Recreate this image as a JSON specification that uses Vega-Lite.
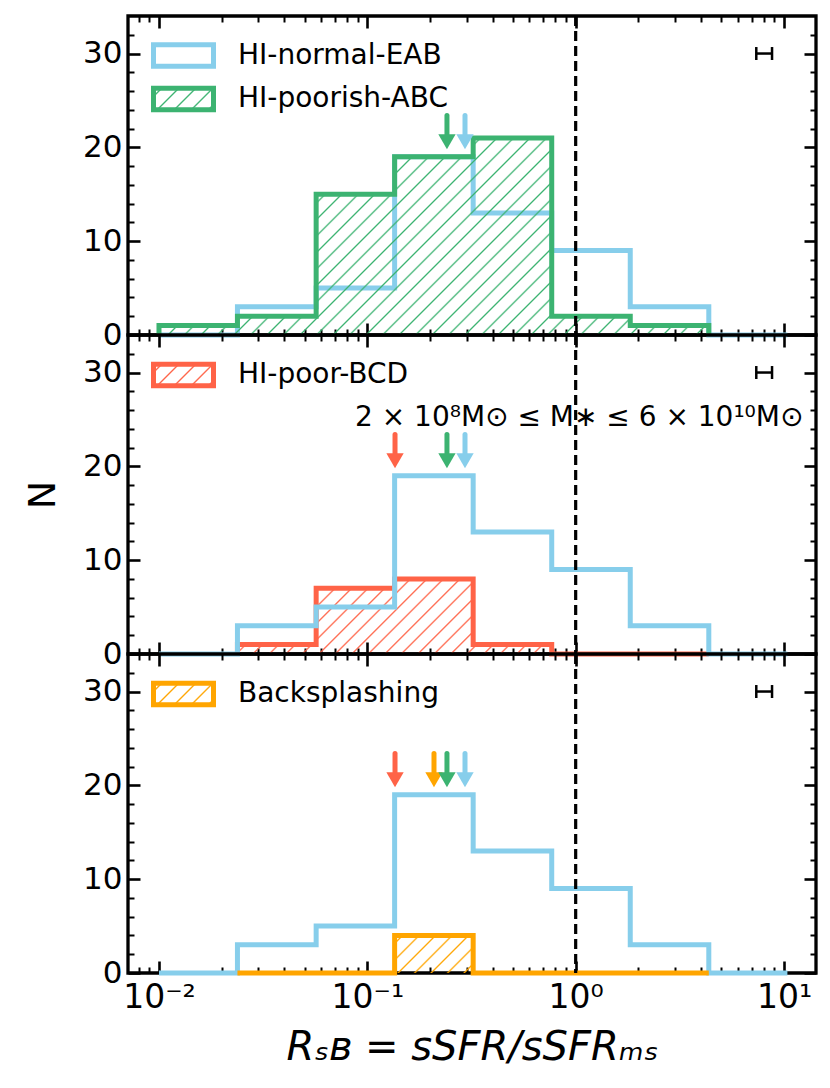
{
"$schema": "https://vega.github.io/schema/vega-lite/v6.json",
"padding": {"left": 22, "top": 12, "right": 5, "bottom": 5},
"background": "white",
"bounds": "flush",
"spacing": 0,
"config": {
  "font": "DejaVu Sans",
  "view": {"stroke": "black", "strokeWidth": 3.3},
  "axis": {"domain": false, "grid": false, "tickColor": "black", "labelColor": "black", "labelFont": "DejaVu Sans", "labelFontSize": 31, "labelFlush": false, "labelOverlap": false, "titleColor": "black", "titleFont": "DejaVu Sans", "titleFontWeight": "normal"},
  "legend": {"labelFont": "DejaVu Sans", "labelColor": "black", "labelLimit": 0}
},
"datasets": {
  "hist": [
    {"s":"HI-normal-EAB","i":0,"x":0.01,"n":0},
    {"s":"HI-normal-EAB","i":1,"x":0.0238,"n":3},
    {"s":"HI-normal-EAB","i":2,"x":0.0568,"n":5},
    {"s":"HI-normal-EAB","i":3,"x":0.1352,"n":19},
    {"s":"HI-normal-EAB","i":4,"x":0.3221,"n":13},
    {"s":"HI-normal-EAB","i":5,"x":0.7674,"n":9},
    {"s":"HI-normal-EAB","i":6,"x":1.828,"n":3},
    {"s":"HI-normal-EAB","i":7,"x":4.355,"n":0},
    {"s":"HI-normal-EAB","i":8,"x":10.38,"n":0},
    {"s":"HI-poorish-ABC","i":0,"x":0.01,"n":0},
    {"s":"HI-poorish-ABC","i":1,"x":0.01,"n":1},
    {"s":"HI-poorish-ABC","i":2,"x":0.0238,"n":2},
    {"s":"HI-poorish-ABC","i":3,"x":0.0568,"n":15},
    {"s":"HI-poorish-ABC","i":4,"x":0.1352,"n":19},
    {"s":"HI-poorish-ABC","i":5,"x":0.3221,"n":21},
    {"s":"HI-poorish-ABC","i":6,"x":0.7674,"n":2},
    {"s":"HI-poorish-ABC","i":7,"x":1.828,"n":1},
    {"s":"HI-poorish-ABC","i":8,"x":4.355,"n":0},
    {"s":"HI-poor-BCD","i":0,"x":0.0238,"n":0},
    {"s":"HI-poor-BCD","i":1,"x":0.0238,"n":1},
    {"s":"HI-poor-BCD","i":2,"x":0.0568,"n":7},
    {"s":"HI-poor-BCD","i":3,"x":0.1352,"n":8},
    {"s":"HI-poor-BCD","i":4,"x":0.3221,"n":1},
    {"s":"HI-poor-BCD","i":5,"x":0.7674,"n":0},
    {"s":"HI-poor-BCD","i":6,"x":1.828,"n":0},
    {"s":"HI-poor-BCD","i":7,"x":4.355,"n":0},
    {"s":"Backsplashing","i":0,"x":0.0238,"n":0},
    {"s":"Backsplashing","i":1,"x":0.0568,"n":0},
    {"s":"Backsplashing","i":2,"x":0.1352,"n":4},
    {"s":"Backsplashing","i":3,"x":0.3221,"n":0},
    {"s":"Backsplashing","i":4,"x":0.7674,"n":0},
    {"s":"Backsplashing","i":5,"x":1.828,"n":0},
    {"s":"Backsplashing","i":6,"x":4.355,"n":0}
  ],
  "arrows": [
    {"p":"top","s":"HI-poorish-ABC","x":0.2411},
    {"p":"top","s":"HI-normal-EAB","x":0.2943},
    {"p":"mid","s":"HI-poor-BCD","x":0.1358},
    {"p":"mid","s":"HI-poorish-ABC","x":0.2411},
    {"p":"mid","s":"HI-normal-EAB","x":0.2943},
    {"p":"bot","s":"HI-poor-BCD","x":0.1358},
    {"p":"bot","s":"Backsplashing","x":0.2089},
    {"p":"bot","s":"HI-poorish-ABC","x":0.2411},
    {"p":"bot","s":"HI-normal-EAB","x":0.2943}
  ],
  "err": [{"lo":7.36,"hi":8.76,"n":30}],
  "ms": [{"r":1}],
  "note": [{"t":"2 × 10⁸M⊙ ≤ M∗ ≤ 6 × 10¹⁰M⊙","x":1.04,"y":25.2}]
},
"resolve": {"scale": {"x":"independent","y":"independent","color":"independent","stroke":"independent","fill":"independent"}, "legend": {"color":"independent"}},
"vconcat": [
{
  "width": 688, "height": 319,
  "resolve": {"axis": {"x":"independent","y":"independent"}},
  "layer": [
    {"data":{"name":"hist"},"transform":[{"filter":"datum.s === 'HI-normal-EAB' || datum.s === 'HI-poorish-ABC'"}],
     "mark":{"type":"line","interpolate":"step-after","strokeWidth":5,"strokeJoin":"miter"},
     "encoding":{
       "x":{"field":"x","type":"quantitative","scale":{"type":"log","domain":[0.0071,14.24],"nice":false},"axis":{"orient":"bottom","values":[0.01,0.1,1,10],"tickSize":-12,"tickWidth":2.6,"labels":false,"title":null}},
       "y":{"field":"n","type":"quantitative","scale":{"domain":[0,34],"nice":false,"zero":false},"axis":{"orient":"left","values":[0,10,20,30],"tickSize":-12,"tickWidth":2.6,"labelPadding":18,"title":null}},
       "order":{"field":"i","type":"quantitative"},
       "color":{"field":"s","type":"nominal","scale":{"domain":["HI-normal-EAB","HI-poorish-ABC"],"range":["#87ceeb","#3cb371"]},
         "legend":{"title":null,"orient":"none","legendX":23,"legendY":24.5,"padding":0,"symbolType":"M-1,-0.362H1V0.362H-1Z","symbolSize":3600,"symbolStrokeWidth":5,"labelFontSize":28,"labelOffset":22,"clipHeight":30,"rowPadding":13.5,
           "encode":{"symbols":{"update":{"opacity":{"value":1},"fill":[{"test":"datum.value === 'HI-poorish-ABC'","value":{"gradient":"linear","x1":0,"y1":0,"x2":1.2042,"y2":0.4360,"stops":[
             {"offset":0,"color":"rgba(60,179,113,0)"},
             {"offset":0.0785,"color":"rgba(60,179,113,0)"},{"offset":0.1013,"color":"#3cb371"},{"offset":0.1241,"color":"rgba(60,179,113,0)"},
             {"offset":0.2873,"color":"rgba(60,179,113,0)"},{"offset":0.3101,"color":"#3cb371"},{"offset":0.3329,"color":"rgba(60,179,113,0)"},
             {"offset":0.4962,"color":"rgba(60,179,113,0)"},{"offset":0.5190,"color":"#3cb371"},{"offset":0.5418,"color":"rgba(60,179,113,0)"},
             {"offset":0.7050,"color":"rgba(60,179,113,0)"},{"offset":0.7278,"color":"#3cb371"},{"offset":0.7506,"color":"rgba(60,179,113,0)"},
             {"offset":0.9139,"color":"rgba(60,179,113,0)"},{"offset":0.9367,"color":"#3cb371"},{"offset":0.9595,"color":"rgba(60,179,113,0)"},
             {"offset":1,"color":"rgba(60,179,113,0)"}]}},{"value":"white"}]}}}}}
     }},
    {"data":{"name":"hist"},"transform":[{"filter":"datum.s === 'HI-poorish-ABC' && datum.i >= 1"}],
     "mark":{"type":"area","orient":"vertical","interpolate":"step-after","opacity":1,"fill":{"gradient":"linear","x1":0,"y1":0,"x2":1.2038,"y2":0.4313,"stops":[
       {"offset":0,"color":"rgba(60,179,113,0)"},
       {"offset":0.0083,"color":"rgba(60,179,113,0)"},{"offset":0.0107,"color":"#3cb371"},{"offset":0.0131,"color":"rgba(60,179,113,0)"},
       {"offset":0.0304,"color":"rgba(60,179,113,0)"},{"offset":0.0328,"color":"#3cb371"},{"offset":0.0352,"color":"rgba(60,179,113,0)"},
       {"offset":0.0525,"color":"rgba(60,179,113,0)"},{"offset":0.0549,"color":"#3cb371"},{"offset":0.0573,"color":"rgba(60,179,113,0)"},
       {"offset":0.0746,"color":"rgba(60,179,113,0)"},{"offset":0.0770,"color":"#3cb371"},{"offset":0.0794,"color":"rgba(60,179,113,0)"},
       {"offset":0.0967,"color":"rgba(60,179,113,0)"},{"offset":0.0991,"color":"#3cb371"},{"offset":0.1015,"color":"rgba(60,179,113,0)"},
       {"offset":0.1188,"color":"rgba(60,179,113,0)"},{"offset":0.1212,"color":"#3cb371"},{"offset":0.1236,"color":"rgba(60,179,113,0)"},
       {"offset":0.1409,"color":"rgba(60,179,113,0)"},{"offset":0.1433,"color":"#3cb371"},{"offset":0.1457,"color":"rgba(60,179,113,0)"},
       {"offset":0.1630,"color":"rgba(60,179,113,0)"},{"offset":0.1654,"color":"#3cb371"},{"offset":0.1678,"color":"rgba(60,179,113,0)"},
       {"offset":0.1851,"color":"rgba(60,179,113,0)"},{"offset":0.1875,"color":"#3cb371"},{"offset":0.1899,"color":"rgba(60,179,113,0)"},
       {"offset":0.2072,"color":"rgba(60,179,113,0)"},{"offset":0.2096,"color":"#3cb371"},{"offset":0.2120,"color":"rgba(60,179,113,0)"},
       {"offset":0.2293,"color":"rgba(60,179,113,0)"},{"offset":0.2317,"color":"#3cb371"},{"offset":0.2341,"color":"rgba(60,179,113,0)"},
       {"offset":0.2514,"color":"rgba(60,179,113,0)"},{"offset":0.2538,"color":"#3cb371"},{"offset":0.2562,"color":"rgba(60,179,113,0)"},
       {"offset":0.2734,"color":"rgba(60,179,113,0)"},{"offset":0.2758,"color":"#3cb371"},{"offset":0.2782,"color":"rgba(60,179,113,0)"},
       {"offset":0.2955,"color":"rgba(60,179,113,0)"},{"offset":0.2979,"color":"#3cb371"},{"offset":0.3003,"color":"rgba(60,179,113,0)"},
       {"offset":0.3176,"color":"rgba(60,179,113,0)"},{"offset":0.3200,"color":"#3cb371"},{"offset":0.3224,"color":"rgba(60,179,113,0)"},
       {"offset":0.3397,"color":"rgba(60,179,113,0)"},{"offset":0.3421,"color":"#3cb371"},{"offset":0.3445,"color":"rgba(60,179,113,0)"},
       {"offset":0.3618,"color":"rgba(60,179,113,0)"},{"offset":0.3642,"color":"#3cb371"},{"offset":0.3666,"color":"rgba(60,179,113,0)"},
       {"offset":0.3839,"color":"rgba(60,179,113,0)"},{"offset":0.3863,"color":"#3cb371"},{"offset":0.3887,"color":"rgba(60,179,113,0)"},
       {"offset":0.4060,"color":"rgba(60,179,113,0)"},{"offset":0.4084,"color":"#3cb371"},{"offset":0.4108,"color":"rgba(60,179,113,0)"},
       {"offset":0.4281,"color":"rgba(60,179,113,0)"},{"offset":0.4305,"color":"#3cb371"},{"offset":0.4329,"color":"rgba(60,179,113,0)"},
       {"offset":0.4502,"color":"rgba(60,179,113,0)"},{"offset":0.4526,"color":"#3cb371"},{"offset":0.4550,"color":"rgba(60,179,113,0)"},
       {"offset":0.4723,"color":"rgba(60,179,113,0)"},{"offset":0.4747,"color":"#3cb371"},{"offset":0.4771,"color":"rgba(60,179,113,0)"},
       {"offset":0.4944,"color":"rgba(60,179,113,0)"},{"offset":0.4968,"color":"#3cb371"},{"offset":0.4992,"color":"rgba(60,179,113,0)"},
       {"offset":0.5165,"color":"rgba(60,179,113,0)"},{"offset":0.5189,"color":"#3cb371"},{"offset":0.5213,"color":"rgba(60,179,113,0)"},
       {"offset":0.5386,"color":"rgba(60,179,113,0)"},{"offset":0.5410,"color":"#3cb371"},{"offset":0.5434,"color":"rgba(60,179,113,0)"},
       {"offset":0.5607,"color":"rgba(60,179,113,0)"},{"offset":0.5631,"color":"#3cb371"},{"offset":0.5655,"color":"rgba(60,179,113,0)"},
       {"offset":0.5828,"color":"rgba(60,179,113,0)"},{"offset":0.5852,"color":"#3cb371"},{"offset":0.5876,"color":"rgba(60,179,113,0)"},
       {"offset":0.6049,"color":"rgba(60,179,113,0)"},{"offset":0.6073,"color":"#3cb371"},{"offset":0.6097,"color":"rgba(60,179,113,0)"},
       {"offset":0.6270,"color":"rgba(60,179,113,0)"},{"offset":0.6294,"color":"#3cb371"},{"offset":0.6318,"color":"rgba(60,179,113,0)"},
       {"offset":0.6490,"color":"rgba(60,179,113,0)"},{"offset":0.6514,"color":"#3cb371"},{"offset":0.6538,"color":"rgba(60,179,113,0)"},
       {"offset":0.6711,"color":"rgba(60,179,113,0)"},{"offset":0.6735,"color":"#3cb371"},{"offset":0.6759,"color":"rgba(60,179,113,0)"},
       {"offset":0.6932,"color":"rgba(60,179,113,0)"},{"offset":0.6956,"color":"#3cb371"},{"offset":0.6980,"color":"rgba(60,179,113,0)"},
       {"offset":0.7153,"color":"rgba(60,179,113,0)"},{"offset":0.7177,"color":"#3cb371"},{"offset":0.7201,"color":"rgba(60,179,113,0)"},
       {"offset":0.7374,"color":"rgba(60,179,113,0)"},{"offset":0.7398,"color":"#3cb371"},{"offset":0.7422,"color":"rgba(60,179,113,0)"},
       {"offset":0.7595,"color":"rgba(60,179,113,0)"},{"offset":0.7619,"color":"#3cb371"},{"offset":0.7643,"color":"rgba(60,179,113,0)"},
       {"offset":0.7816,"color":"rgba(60,179,113,0)"},{"offset":0.7840,"color":"#3cb371"},{"offset":0.7864,"color":"rgba(60,179,113,0)"},
       {"offset":0.8037,"color":"rgba(60,179,113,0)"},{"offset":0.8061,"color":"#3cb371"},{"offset":0.8085,"color":"rgba(60,179,113,0)"},
       {"offset":0.8258,"color":"rgba(60,179,113,0)"},{"offset":0.8282,"color":"#3cb371"},{"offset":0.8306,"color":"rgba(60,179,113,0)"},
       {"offset":0.8479,"color":"rgba(60,179,113,0)"},{"offset":0.8503,"color":"#3cb371"},{"offset":0.8527,"color":"rgba(60,179,113,0)"},
       {"offset":0.8700,"color":"rgba(60,179,113,0)"},{"offset":0.8724,"color":"#3cb371"},{"offset":0.8748,"color":"rgba(60,179,113,0)"},
       {"offset":0.8921,"color":"rgba(60,179,113,0)"},{"offset":0.8945,"color":"#3cb371"},{"offset":0.8969,"color":"rgba(60,179,113,0)"},
       {"offset":0.9142,"color":"rgba(60,179,113,0)"},{"offset":0.9166,"color":"#3cb371"},{"offset":0.9190,"color":"rgba(60,179,113,0)"},
       {"offset":0.9363,"color":"rgba(60,179,113,0)"},{"offset":0.9387,"color":"#3cb371"},{"offset":0.9411,"color":"rgba(60,179,113,0)"},
       {"offset":0.9584,"color":"rgba(60,179,113,0)"},{"offset":0.9608,"color":"#3cb371"},{"offset":0.9632,"color":"rgba(60,179,113,0)"},
       {"offset":0.9805,"color":"rgba(60,179,113,0)"},{"offset":0.9829,"color":"#3cb371"},{"offset":0.9853,"color":"rgba(60,179,113,0)"},
       {"offset":1,"color":"rgba(60,179,113,0)"}]}},
     "encoding":{
       "x":{"field":"x","type":"quantitative","scale":{"type":"log","domain":[0.0071,14.24],"nice":false},"axis":{"orient":"bottom","values":[0.008,0.009,0.02,0.03,0.04,0.05,0.06,0.07,0.08,0.09,0.2,0.3,0.4,0.5,0.6,0.7,0.8,0.9,2,3,4,5,6,7,8,9],"tickSize":-6,"tickWidth":2,"labels":false,"title":null}},
       "y":{"field":"n","type":"quantitative","stack":null,"scale":{"domain":[0,34],"nice":false,"zero":false},"axis":{"orient":"left","values":[2,4,6,8,12,14,16,18,22,24,26,28,32],"tickSize":-6,"tickWidth":2,"labels":false,"title":null}}
     }},
    {"data":{"name":"ms"},"mark":{"type":"rule","strokeDash":[10,5],"strokeWidth":3.2,"color":"black"},
     "encoding":{"x":{"field":"r","type":"quantitative","scale":{"type":"log","domain":[0.0071,14.24],"nice":false},"axis":null}}},
    {"data":{"name":"arrows"},"transform":[{"filter":"datum.p === 'top'"}],
     "mark":{"type":"rule","strokeWidth":5,"strokeCap":"round"},
     "encoding":{
       "x":{"field":"x","type":"quantitative","scale":{"type":"log","domain":[0.0071,14.24],"nice":false},"axis":{"orient":"top","values":[0.01,0.1,1,10],"tickSize":-12,"tickWidth":2.6,"labels":false,"title":null}},
       "y":{"datum":23.4,"type":"quantitative","scale":{"domain":[0,34],"nice":false,"zero":false},"axis":{"orient":"right","values":[0,10,20,30],"tickSize":-12,"tickWidth":2.6,"labels":false,"title":null}},
       "y2":{"datum":21.2},
       "stroke":{"field":"s","type":"nominal","scale":{"domain":["HI-normal-EAB","HI-poorish-ABC","HI-poor-BCD","Backsplashing"],"range":["#87ceeb","#3cb371","#ff6347","#ffa500"]},"legend":null}
     }},
    {"data":{"name":"arrows"},"transform":[{"filter":"datum.p === 'top'"}],
     "mark":{"type":"point","shape":"triangle-down","size":300,"filled":true,"opacity":1,"strokeWidth":0},
     "encoding":{
       "x":{"field":"x","type":"quantitative","scale":{"type":"log","domain":[0.0071,14.24],"nice":false},"axis":{"orient":"top","values":[0.008,0.009,0.02,0.03,0.04,0.05,0.06,0.07,0.08,0.09,0.2,0.3,0.4,0.5,0.6,0.7,0.8,0.9,2,3,4,5,6,7,8,9],"tickSize":-6,"tickWidth":2,"labels":false,"title":null}},
       "y":{"datum":20.6,"type":"quantitative","scale":{"domain":[0,34],"nice":false,"zero":false},"axis":{"orient":"right","values":[2,4,6,8,12,14,16,18,22,24,26,28,32],"tickSize":-6,"tickWidth":2,"labels":false,"title":null}},
       "fill":{"field":"s","type":"nominal","scale":{"domain":["HI-normal-EAB","HI-poorish-ABC","HI-poor-BCD","Backsplashing"],"range":["#87ceeb","#3cb371","#ff6347","#ffa500"]},"legend":null}
     }},
    {"data":{"name":"err"},"mark":{"type":"rule","strokeWidth":2.5,"color":"black"},
     "encoding":{"x":{"field":"lo","type":"quantitative","scale":{"type":"log","domain":[0.0071,14.24],"nice":false},"axis":null},"x2":{"field":"hi"},"y":{"field":"n","type":"quantitative","scale":{"domain":[0,34],"nice":false,"zero":false},"axis":null}}},
    {"data":{"name":"err"},"transform":[{"fold":["lo","hi"],"as":["end","v"]}],"mark":{"type":"tick","orient":"vertical","size":13,"thickness":2.5,"color":"black","opacity":1},
     "encoding":{"x":{"field":"v","type":"quantitative","scale":{"type":"log","domain":[0.0071,14.24],"nice":false},"axis":null},"y":{"field":"n","type":"quantitative","scale":{"domain":[0,34],"nice":false,"zero":false},"axis":null}}}
  ]
},
{
  "width": 688, "height": 319,
  "resolve": {"axis": {"x":"independent","y":"independent"}},
  "layer": [
    {"data":{"name":"hist"},"transform":[{"filter":"datum.s === 'HI-poor-BCD' && datum.i >= 1 && datum.x <= 0.77"}],
     "mark":{"type":"area","orient":"vertical","interpolate":"step-after","opacity":1,"fill":{"gradient":"linear","x1":0,"y1":0,"x2":1.1720,"y2":0.2801,"stops":[
       {"offset":0,"color":"rgba(255,99,71,0)"},
       {"offset":0.0159,"color":"rgba(255,99,71,0)"},{"offset":0.0205,"color":"#ff6347"},{"offset":0.0251,"color":"rgba(255,99,71,0)"},
       {"offset":0.0583,"color":"rgba(255,99,71,0)"},{"offset":0.0629,"color":"#ff6347"},{"offset":0.0675,"color":"rgba(255,99,71,0)"},
       {"offset":0.1007,"color":"rgba(255,99,71,0)"},{"offset":0.1053,"color":"#ff6347"},{"offset":0.1099,"color":"rgba(255,99,71,0)"},
       {"offset":0.1430,"color":"rgba(255,99,71,0)"},{"offset":0.1476,"color":"#ff6347"},{"offset":0.1522,"color":"rgba(255,99,71,0)"},
       {"offset":0.1854,"color":"rgba(255,99,71,0)"},{"offset":0.1900,"color":"#ff6347"},{"offset":0.1946,"color":"rgba(255,99,71,0)"},
       {"offset":0.2278,"color":"rgba(255,99,71,0)"},{"offset":0.2324,"color":"#ff6347"},{"offset":0.2370,"color":"rgba(255,99,71,0)"},
       {"offset":0.2702,"color":"rgba(255,99,71,0)"},{"offset":0.2748,"color":"#ff6347"},{"offset":0.2794,"color":"rgba(255,99,71,0)"},
       {"offset":0.3125,"color":"rgba(255,99,71,0)"},{"offset":0.3171,"color":"#ff6347"},{"offset":0.3217,"color":"rgba(255,99,71,0)"},
       {"offset":0.3549,"color":"rgba(255,99,71,0)"},{"offset":0.3595,"color":"#ff6347"},{"offset":0.3641,"color":"rgba(255,99,71,0)"},
       {"offset":0.3973,"color":"rgba(255,99,71,0)"},{"offset":0.4019,"color":"#ff6347"},{"offset":0.4065,"color":"rgba(255,99,71,0)"},
       {"offset":0.4396,"color":"rgba(255,99,71,0)"},{"offset":0.4442,"color":"#ff6347"},{"offset":0.4488,"color":"rgba(255,99,71,0)"},
       {"offset":0.4820,"color":"rgba(255,99,71,0)"},{"offset":0.4866,"color":"#ff6347"},{"offset":0.4912,"color":"rgba(255,99,71,0)"},
       {"offset":0.5244,"color":"rgba(255,99,71,0)"},{"offset":0.5290,"color":"#ff6347"},{"offset":0.5336,"color":"rgba(255,99,71,0)"},
       {"offset":0.5667,"color":"rgba(255,99,71,0)"},{"offset":0.5713,"color":"#ff6347"},{"offset":0.5759,"color":"rgba(255,99,71,0)"},
       {"offset":0.6091,"color":"rgba(255,99,71,0)"},{"offset":0.6137,"color":"#ff6347"},{"offset":0.6183,"color":"rgba(255,99,71,0)"},
       {"offset":0.6515,"color":"rgba(255,99,71,0)"},{"offset":0.6561,"color":"#ff6347"},{"offset":0.6607,"color":"rgba(255,99,71,0)"},
       {"offset":0.6939,"color":"rgba(255,99,71,0)"},{"offset":0.6985,"color":"#ff6347"},{"offset":0.7031,"color":"rgba(255,99,71,0)"},
       {"offset":0.7362,"color":"rgba(255,99,71,0)"},{"offset":0.7408,"color":"#ff6347"},{"offset":0.7454,"color":"rgba(255,99,71,0)"},
       {"offset":0.7786,"color":"rgba(255,99,71,0)"},{"offset":0.7832,"color":"#ff6347"},{"offset":0.7878,"color":"rgba(255,99,71,0)"},
       {"offset":0.8210,"color":"rgba(255,99,71,0)"},{"offset":0.8256,"color":"#ff6347"},{"offset":0.8302,"color":"rgba(255,99,71,0)"},
       {"offset":0.8633,"color":"rgba(255,99,71,0)"},{"offset":0.8679,"color":"#ff6347"},{"offset":0.8725,"color":"rgba(255,99,71,0)"},
       {"offset":0.9057,"color":"rgba(255,99,71,0)"},{"offset":0.9103,"color":"#ff6347"},{"offset":0.9149,"color":"rgba(255,99,71,0)"},
       {"offset":0.9481,"color":"rgba(255,99,71,0)"},{"offset":0.9527,"color":"#ff6347"},{"offset":0.9573,"color":"rgba(255,99,71,0)"},
       {"offset":0.9904,"color":"rgba(255,99,71,0)"},{"offset":0.9950,"color":"#ff6347"},{"offset":0.9996,"color":"rgba(255,99,71,0)"},
       {"offset":1,"color":"rgba(255,99,71,0)"}]}},
     "encoding":{
       "x":{"field":"x","type":"quantitative","scale":{"type":"log","domain":[0.0071,14.24],"nice":false},"axis":{"orient":"bottom","values":[0.008,0.009,0.02,0.03,0.04,0.05,0.06,0.07,0.08,0.09,0.2,0.3,0.4,0.5,0.6,0.7,0.8,0.9,2,3,4,5,6,7,8,9],"tickSize":-6,"tickWidth":2,"labels":false,"title":null}},
       "y":{"field":"n","type":"quantitative","stack":null,"scale":{"domain":[0,34],"nice":false,"zero":false},"axis":{"orient":"left","values":[2,4,6,8,12,14,16,18,22,24,26,28,32],"tickSize":-6,"tickWidth":2,"labels":false,"title":null}}
     }},
    {"data":{"name":"hist"},"transform":[{"filter":"datum.s === 'HI-poor-BCD'"}],
     "mark":{"type":"line","interpolate":"step-after","strokeWidth":5,"strokeJoin":"miter"},
     "encoding":{
       "x":{"field":"x","type":"quantitative","scale":{"type":"log","domain":[0.0071,14.24],"nice":false},"axis":{"orient":"bottom","values":[0.01,0.1,1,10],"tickSize":-12,"tickWidth":2.6,"labels":false,"title":null}},
       "y":{"field":"n","type":"quantitative","scale":{"domain":[0,34],"nice":false,"zero":false},"axis":{"orient":"left","values":[0,10,20,30],"tickSize":-12,"tickWidth":2.6,"labelPadding":18,"title":"N","titleFontSize":38,"titlePadding":20}},
       "order":{"field":"i","type":"quantitative"},
       "color":{"field":"s","type":"nominal","scale":{"domain":["HI-poor-BCD"],"range":["#ff6347"]},
         "legend":{"title":null,"orient":"none","legendX":23,"legendY":25,"padding":0,"symbolType":"M-1,-0.362H1V0.362H-1Z","symbolSize":3600,"symbolStrokeWidth":5,"labelFontSize":28,"labelOffset":22,"clipHeight":30,"rowPadding":13.5,
           "encode":{"symbols":{"update":{"opacity":{"value":1},"fill":{"value":{"gradient":"linear","x1":0,"y1":0,"x2":1.2042,"y2":0.4360,"stops":[
             {"offset":0,"color":"rgba(255,99,71,0)"},
             {"offset":0.0785,"color":"rgba(255,99,71,0)"},{"offset":0.1013,"color":"#ff6347"},{"offset":0.1241,"color":"rgba(255,99,71,0)"},
             {"offset":0.2873,"color":"rgba(255,99,71,0)"},{"offset":0.3101,"color":"#ff6347"},{"offset":0.3329,"color":"rgba(255,99,71,0)"},
             {"offset":0.4962,"color":"rgba(255,99,71,0)"},{"offset":0.5190,"color":"#ff6347"},{"offset":0.5418,"color":"rgba(255,99,71,0)"},
             {"offset":0.7050,"color":"rgba(255,99,71,0)"},{"offset":0.7278,"color":"#ff6347"},{"offset":0.7506,"color":"rgba(255,99,71,0)"},
             {"offset":0.9139,"color":"rgba(255,99,71,0)"},{"offset":0.9367,"color":"#ff6347"},{"offset":0.9595,"color":"rgba(255,99,71,0)"},
             {"offset":1,"color":"rgba(255,99,71,0)"}]}}}}}}}
     }},
    {"data":{"name":"hist"},"transform":[{"filter":"datum.s === 'HI-normal-EAB'"}],
     "mark":{"type":"line","interpolate":"step-after","strokeWidth":5,"strokeJoin":"miter","color":"#87ceeb"},
     "encoding":{
       "x":{"field":"x","type":"quantitative","scale":{"type":"log","domain":[0.0071,14.24],"nice":false},"axis":null},
       "y":{"field":"n","type":"quantitative","scale":{"domain":[0,34],"nice":false,"zero":false},"axis":null},
       "order":{"field":"i","type":"quantitative"}
     }},
    {"data":{"name":"ms"},"mark":{"type":"rule","strokeDash":[10,5],"strokeWidth":3.2,"color":"black"},
     "encoding":{"x":{"field":"r","type":"quantitative","scale":{"type":"log","domain":[0.0071,14.24],"nice":false},"axis":null}}},
    {"data":{"name":"arrows"},"transform":[{"filter":"datum.p === 'mid'"}],
     "mark":{"type":"rule","strokeWidth":5,"strokeCap":"round"},
     "encoding":{
       "x":{"field":"x","type":"quantitative","scale":{"type":"log","domain":[0.0071,14.24],"nice":false},"axis":{"orient":"top","values":[0.01,0.1,1,10],"tickSize":-12,"tickWidth":2.6,"labels":false,"title":null}},
       "y":{"datum":23.4,"type":"quantitative","scale":{"domain":[0,34],"nice":false,"zero":false},"axis":{"orient":"right","values":[0,10,20,30],"tickSize":-12,"tickWidth":2.6,"labels":false,"title":null}},
       "y2":{"datum":21.2},
       "stroke":{"field":"s","type":"nominal","scale":{"domain":["HI-normal-EAB","HI-poorish-ABC","HI-poor-BCD","Backsplashing"],"range":["#87ceeb","#3cb371","#ff6347","#ffa500"]},"legend":null}
     }},
    {"data":{"name":"arrows"},"transform":[{"filter":"datum.p === 'mid'"}],
     "mark":{"type":"point","shape":"triangle-down","size":300,"filled":true,"opacity":1,"strokeWidth":0},
     "encoding":{
       "x":{"field":"x","type":"quantitative","scale":{"type":"log","domain":[0.0071,14.24],"nice":false},"axis":{"orient":"top","values":[0.008,0.009,0.02,0.03,0.04,0.05,0.06,0.07,0.08,0.09,0.2,0.3,0.4,0.5,0.6,0.7,0.8,0.9,2,3,4,5,6,7,8,9],"tickSize":-6,"tickWidth":2,"labels":false,"title":null}},
       "y":{"datum":20.6,"type":"quantitative","scale":{"domain":[0,34],"nice":false,"zero":false},"axis":{"orient":"right","values":[2,4,6,8,12,14,16,18,22,24,26,28,32],"tickSize":-6,"tickWidth":2,"labels":false,"title":null}},
       "fill":{"field":"s","type":"nominal","scale":{"domain":["HI-normal-EAB","HI-poorish-ABC","HI-poor-BCD","Backsplashing"],"range":["#87ceeb","#3cb371","#ff6347","#ffa500"]},"legend":null}
     }},
    {"data":{"name":"err"},"mark":{"type":"rule","strokeWidth":2.5,"color":"black"},
     "encoding":{"x":{"field":"lo","type":"quantitative","scale":{"type":"log","domain":[0.0071,14.24],"nice":false},"axis":null},"x2":{"field":"hi"},"y":{"field":"n","type":"quantitative","scale":{"domain":[0,34],"nice":false,"zero":false},"axis":null}}},
    {"data":{"name":"err"},"transform":[{"fold":["lo","hi"],"as":["end","v"]}],"mark":{"type":"tick","orient":"vertical","size":13,"thickness":2.5,"color":"black","opacity":1},
     "encoding":{"x":{"field":"v","type":"quantitative","scale":{"type":"log","domain":[0.0071,14.24],"nice":false},"axis":null},"y":{"field":"n","type":"quantitative","scale":{"domain":[0,34],"nice":false,"zero":false},"axis":null}}},
    {"data":{"name":"note"},"mark":{"type":"text","fontSize":28,"font":"DejaVu Sans","color":"black","align":"center","baseline":"middle"},
     "encoding":{"x":{"field":"x","type":"quantitative","scale":{"type":"log","domain":[0.0071,14.24],"nice":false},"axis":null},"y":{"field":"y","type":"quantitative","scale":{"domain":[0,34],"nice":false,"zero":false},"axis":null},"text":{"field":"t"}}}
  ]
},
{
  "width": 688, "height": 319,
  "resolve": {"axis": {"x":"independent","y":"independent"}},
  "layer": [
    {"data":{"name":"hist"},"transform":[{"filter":"datum.s === 'HI-normal-EAB'"}],
     "mark":{"type":"line","interpolate":"step-after","strokeWidth":5,"strokeJoin":"miter","color":"#87ceeb"},
     "encoding":{
       "x":{"field":"x","type":"quantitative","scale":{"type":"log","domain":[0.0071,14.24],"nice":false},"axis":null},
       "y":{"field":"n","type":"quantitative","scale":{"domain":[0,34],"nice":false,"zero":false},"axis":null},
       "order":{"field":"i","type":"quantitative"}
     }},
    {"data":{"name":"hist"},"transform":[{"filter":"datum.s === 'Backsplashing' && datum.x >= 0.13 && datum.x <= 0.33"}],
     "mark":{"type":"area","orient":"vertical","interpolate":"step-after","opacity":1,"fill":{"gradient":"linear","x1":0,"y1":0,"x2":1.2033,"y2":0.5741,"stops":[
       {"offset":0,"color":"rgba(255,165,0,0)"},
       {"offset":0.0534,"color":"rgba(255,165,0,0)"},{"offset":0.0689,"color":"#ffa500"},{"offset":0.0844,"color":"rgba(255,165,0,0)"},
       {"offset":0.1955,"color":"rgba(255,165,0,0)"},{"offset":0.2110,"color":"#ffa500"},{"offset":0.2265,"color":"rgba(255,165,0,0)"},
       {"offset":0.3376,"color":"rgba(255,165,0,0)"},{"offset":0.3531,"color":"#ffa500"},{"offset":0.3686,"color":"rgba(255,165,0,0)"},
       {"offset":0.4798,"color":"rgba(255,165,0,0)"},{"offset":0.4953,"color":"#ffa500"},{"offset":0.5108,"color":"rgba(255,165,0,0)"},
       {"offset":0.6219,"color":"rgba(255,165,0,0)"},{"offset":0.6374,"color":"#ffa500"},{"offset":0.6529,"color":"rgba(255,165,0,0)"},
       {"offset":0.7640,"color":"rgba(255,165,0,0)"},{"offset":0.7795,"color":"#ffa500"},{"offset":0.7950,"color":"rgba(255,165,0,0)"},
       {"offset":0.9061,"color":"rgba(255,165,0,0)"},{"offset":0.9216,"color":"#ffa500"},{"offset":0.9371,"color":"rgba(255,165,0,0)"},
       {"offset":1,"color":"rgba(255,165,0,0)"}]}},
     "encoding":{
       "x":{"field":"x","type":"quantitative","scale":{"type":"log","domain":[0.0071,14.24],"nice":false},"axis":{"orient":"bottom","values":[0.008,0.009,0.02,0.03,0.04,0.05,0.06,0.07,0.08,0.09,0.2,0.3,0.4,0.5,0.6,0.7,0.8,0.9,2,3,4,5,6,7,8,9],"tickSize":-6,"tickWidth":2,"labels":false,"title":null}},
       "y":{"field":"n","type":"quantitative","stack":null,"scale":{"domain":[0,34],"nice":false,"zero":false},"axis":{"orient":"left","values":[2,4,6,8,12,14,16,18,22,24,26,28,32],"tickSize":-6,"tickWidth":2,"labels":false,"title":null}}
     }},
    {"data":{"name":"hist"},"transform":[{"filter":"datum.s === 'Backsplashing'"}],
     "mark":{"type":"line","interpolate":"step-after","strokeWidth":5,"strokeJoin":"miter"},
     "encoding":{
       "x":{"field":"x","type":"quantitative","scale":{"type":"log","domain":[0.0071,14.24],"nice":false},"axis":{"orient":"bottom","values":[0.01,0.1,1,10],"tickSize":-12,"tickWidth":2.6,"labelPadding":20,"labelFontSize":33,"labelExpr":"datum.value < 0.05 ? '10⁻²' : datum.value < 0.5 ? '10⁻¹' : datum.value < 5 ? '10⁰' : '10¹'","title":"Rₛʙ = sSFR/sSFRₘₛ","titleFontSize":40,"titleFontStyle":"italic","titlePadding":13}},
       "y":{"field":"n","type":"quantitative","scale":{"domain":[0,34],"nice":false,"zero":false},"axis":{"orient":"left","values":[0,10,20,30],"tickSize":-12,"tickWidth":2.6,"labelPadding":18,"title":null}},
       "order":{"field":"i","type":"quantitative"},
       "color":{"field":"s","type":"nominal","scale":{"domain":["Backsplashing"],"range":["#ffa500"]},
         "legend":{"title":null,"orient":"none","legendX":23,"legendY":25,"padding":0,"symbolType":"M-1,-0.362H1V0.362H-1Z","symbolSize":3600,"symbolStrokeWidth":5,"labelFontSize":28,"labelOffset":22,"clipHeight":30,"rowPadding":13.5,
           "encode":{"symbols":{"update":{"opacity":{"value":1},"fill":{"value":{"gradient":"linear","x1":0,"y1":0,"x2":1.2042,"y2":0.4360,"stops":[
             {"offset":0,"color":"rgba(255,165,0,0)"},
             {"offset":0.0785,"color":"rgba(255,165,0,0)"},{"offset":0.1013,"color":"#ffa500"},{"offset":0.1241,"color":"rgba(255,165,0,0)"},
             {"offset":0.2873,"color":"rgba(255,165,0,0)"},{"offset":0.3101,"color":"#ffa500"},{"offset":0.3329,"color":"rgba(255,165,0,0)"},
             {"offset":0.4962,"color":"rgba(255,165,0,0)"},{"offset":0.5190,"color":"#ffa500"},{"offset":0.5418,"color":"rgba(255,165,0,0)"},
             {"offset":0.7050,"color":"rgba(255,165,0,0)"},{"offset":0.7278,"color":"#ffa500"},{"offset":0.7506,"color":"rgba(255,165,0,0)"},
             {"offset":0.9139,"color":"rgba(255,165,0,0)"},{"offset":0.9367,"color":"#ffa500"},{"offset":0.9595,"color":"rgba(255,165,0,0)"},
             {"offset":1,"color":"rgba(255,165,0,0)"}]}}}}}}}
     }},
    {"data":{"name":"ms"},"mark":{"type":"rule","strokeDash":[10,5],"strokeWidth":3.2,"color":"black"},
     "encoding":{"x":{"field":"r","type":"quantitative","scale":{"type":"log","domain":[0.0071,14.24],"nice":false},"axis":null}}},
    {"data":{"name":"arrows"},"transform":[{"filter":"datum.p === 'bot'"}],
     "mark":{"type":"rule","strokeWidth":5,"strokeCap":"round"},
     "encoding":{
       "x":{"field":"x","type":"quantitative","scale":{"type":"log","domain":[0.0071,14.24],"nice":false},"axis":{"orient":"top","values":[0.01,0.1,1,10],"tickSize":-12,"tickWidth":2.6,"labels":false,"title":null}},
       "y":{"datum":23.4,"type":"quantitative","scale":{"domain":[0,34],"nice":false,"zero":false},"axis":{"orient":"right","values":[0,10,20,30],"tickSize":-12,"tickWidth":2.6,"labels":false,"title":null}},
       "y2":{"datum":21.2},
       "stroke":{"field":"s","type":"nominal","scale":{"domain":["HI-normal-EAB","HI-poorish-ABC","HI-poor-BCD","Backsplashing"],"range":["#87ceeb","#3cb371","#ff6347","#ffa500"]},"legend":null}
     }},
    {"data":{"name":"arrows"},"transform":[{"filter":"datum.p === 'bot'"}],
     "mark":{"type":"point","shape":"triangle-down","size":300,"filled":true,"opacity":1,"strokeWidth":0},
     "encoding":{
       "x":{"field":"x","type":"quantitative","scale":{"type":"log","domain":[0.0071,14.24],"nice":false},"axis":{"orient":"top","values":[0.008,0.009,0.02,0.03,0.04,0.05,0.06,0.07,0.08,0.09,0.2,0.3,0.4,0.5,0.6,0.7,0.8,0.9,2,3,4,5,6,7,8,9],"tickSize":-6,"tickWidth":2,"labels":false,"title":null}},
       "y":{"datum":20.6,"type":"quantitative","scale":{"domain":[0,34],"nice":false,"zero":false},"axis":{"orient":"right","values":[2,4,6,8,12,14,16,18,22,24,26,28,32],"tickSize":-6,"tickWidth":2,"labels":false,"title":null}},
       "fill":{"field":"s","type":"nominal","scale":{"domain":["HI-normal-EAB","HI-poorish-ABC","HI-poor-BCD","Backsplashing"],"range":["#87ceeb","#3cb371","#ff6347","#ffa500"]},"legend":null}
     }},
    {"data":{"name":"err"},"mark":{"type":"rule","strokeWidth":2.5,"color":"black"},
     "encoding":{"x":{"field":"lo","type":"quantitative","scale":{"type":"log","domain":[0.0071,14.24],"nice":false},"axis":null},"x2":{"field":"hi"},"y":{"field":"n","type":"quantitative","scale":{"domain":[0,34],"nice":false,"zero":false},"axis":null}}},
    {"data":{"name":"err"},"transform":[{"fold":["lo","hi"],"as":["end","v"]}],"mark":{"type":"tick","orient":"vertical","size":13,"thickness":2.5,"color":"black","opacity":1},
     "encoding":{"x":{"field":"v","type":"quantitative","scale":{"type":"log","domain":[0.0071,14.24],"nice":false},"axis":null},"y":{"field":"n","type":"quantitative","scale":{"domain":[0,34],"nice":false,"zero":false},"axis":null}}}
  ]
}
]
}
